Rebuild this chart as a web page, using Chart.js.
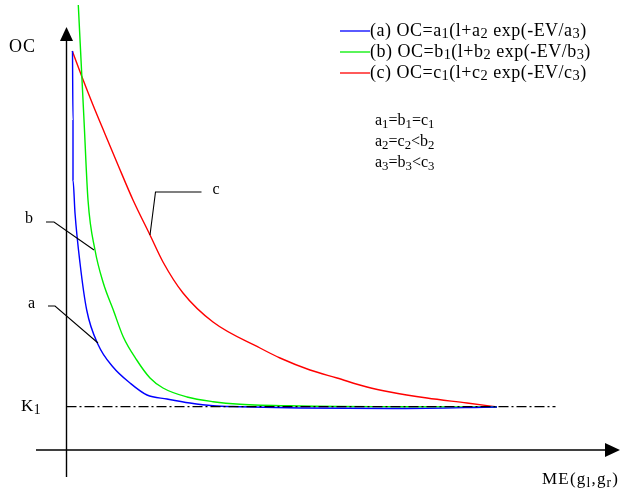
<!DOCTYPE html>
<html>
<head>
<meta charset="utf-8">
<script src="https://cdn.jsdelivr.net/npm/chart.js@4"></script>
<style>
  body { margin: 0; background: #fff; }
  #wrap { width: 621px; height: 494px; position: relative; }
</style>
</head>
<body>
<div id="wrap"><canvas id="mycanvas"></canvas></div>
<script>
// curves, x = ME, y = OC (arbitrary units)
let curveA = [[0.6,39.9],[0.65,33],[0.65,27],[0.85,23.7],[1.35,18.7],[2.02,14],[3.18,10.5],[4.65,8.3],[6.35,6.7],[8.05,5.5],[10.05,5.1],[12.35,4.7],[14.65,4.43],[17.35,4.33],[23.35,4.2],[33.35,4.15],[43.05,4.3]]
let curveB = [[1.18,44.5],[1.75,33],[2.15,25],[2.85,20],[3.68,16.7],[4.68,14],[5.68,11.3],[7.02,9],[8.35,7.2],[9.65,6.2],[12.05,5.3],[14.65,4.83],[17.35,4.57],[23.35,4.4],[33.35,4.33],[43.05,4.3]]
let curveC = [[0.58,39.9],[1.55,37.3],[2.65,34.5],[3.85,31.6],[5.15,28.5],[6.65,25],[8.35,21.5],[9.65,18.8],[11.65,15.7],[14.65,12.8],[19.35,10.2],[21.35,9.2],[24.35,8],[27.05,7.2],[30.05,6.3],[32.35,5.8],[36.05,5.2],[40.05,4.7],[43.05,4.3]]
let k1 = 4.33
let k1Range = [0, 48.9]

let legendText = ["(a) OC=a_1(l+a_2 exp(-EV/a_3)", "(b) OC=b_1(l+b_2 exp(-EV/b_3)", "(c) OC=c_1(l+c_2 exp(-EV/c_3)"]
let colors = ["#0000ff", "#00ee00", "#ff0000"]
let conditions = ["a_1=b_1=c_1", "a_2=c_2<b_2", "a_3=b_3<c_3"]

function pts(arr){ return arr.map(p => ({x: p[0], y: p[1]})) }

// text with "_x" subscripts, sp = extra space after each glyph
function richText(ctx, str, x, y, size, sp){
  sp = sp || 0
  let cx = x
  for (let i = 0; i < str.length; i++){
    let ch = str[i]
    if (ch == "_" && i + 1 < str.length){
      i++
      ctx.font = (size*0.8) + "px 'Liberation Serif'"
      ctx.fillText(str[i], cx, y + size*0.2)
      cx += ctx.measureText(str[i]).width + sp
    } else {
      ctx.font = size + "px 'Liberation Serif'"
      ctx.fillText(ch, cx, y)
      cx += ctx.measureText(ch).width + sp
    }
  }
  return cx
}

let extras = {
  id: "extras",
  afterDatasetsDraw(chart){
    let ctx = chart.ctx
    let xs = chart.scales.x, ys = chart.scales.y
    let X = v => xs.getPixelForValue(v), Y = v => ys.getPixelForValue(v)
    ctx.save()
    ctx.strokeStyle = "#000"
    ctx.fillStyle = "#000"
    ctx.lineWidth = 1.4
    // axes
    ctx.beginPath()
    ctx.moveTo(X(0), Y(-2.7)); ctx.lineTo(X(0), Y(41))
    ctx.moveTo(X(-3.05), Y(0)); ctx.lineTo(X(53.9), Y(0))
    ctx.stroke()
    ctx.beginPath()
    ctx.moveTo(X(0), Y(42.3)); ctx.lineTo(X(-0.65), Y(40.9)); ctx.lineTo(X(0.65), Y(40.9)); ctx.closePath()
    ctx.fill()
    ctx.beginPath()
    ctx.moveTo(X(55.35), Y(0)); ctx.lineTo(X(53.85), Y(0.7)); ctx.lineTo(X(53.85), Y(-0.7)); ctx.closePath()
    ctx.fill()

    // leader lines
    ctx.lineWidth = 1.1
    let leaders = [
      [[13.5,25.8],[8.9,25.8],[8.35,21.5]],
      [[-2.05,22.8],[-1.25,22.8],[2.75,20]],
      [[-1.85,14.4],[-1.15,14.4],[3.15,10.7]]
    ]
    leaders.forEach(l => {
      ctx.beginPath()
      ctx.moveTo(X(l[0][0]), Y(l[0][1]))
      for (let i = 1; i < l.length; i++) ctx.lineTo(X(l[i][0]), Y(l[i][1]))
      ctx.stroke()
    })

    ctx.textBaseline = "middle"
    richText(ctx, "c", X(14.6), Y(26), 16)
    richText(ctx, "b", X(-4.15), Y(23.1), 16)
    richText(ctx, "a", X(-3.85), Y(14.6), 16)
    richText(ctx, "OC", 9, Y(40.3), 18, 1)
    richText(ctx, "K_1", 21, Y(k1), 17, 0.5)
    richText(ctx, "ME(g_l,g_r)", 542, 480, 17, 1.2)

    // legend
    legendText.forEach((t, i) => {
      let y = 31 + i*21
      ctx.strokeStyle = colors[i]
      ctx.lineWidth = 1.3
      ctx.beginPath(); ctx.moveTo(340, y); ctx.lineTo(370, y); ctx.stroke()
      ctx.fillStyle = "#000"
      richText(ctx, t, 370, y, 18, 0.5)
    })
    conditions.forEach((t, i) => {
      richText(ctx, t, 375, 121 + i*21, 16, 0)
    })
    ctx.restore()
  }
}

let mychart = new Chart(document.getElementById("mycanvas"), {
  type: "line",
  data: {
    datasets: [
      { data: [{x: k1Range[0], y: k1}, {x: k1Range[1], y: k1}], borderColor: "#000", borderWidth: 1.3, borderDash: [10,3,2,3], pointRadius: 0 },
      { data: pts(curveA), borderColor: colors[0], borderWidth: 1.4, pointRadius: 0, cubicInterpolationMode: "monotone" },
      { data: pts(curveB), borderColor: colors[1], borderWidth: 1.4, pointRadius: 0, cubicInterpolationMode: "monotone" },
      { data: pts(curveC), borderColor: colors[2], borderWidth: 1.4, pointRadius: 0, cubicInterpolationMode: "monotone" }
    ]
  },
  options: {
    responsive: true,
    maintainAspectRatio: false,
    animation: false,
    layout: { padding: 0 },
    plugins: { legend: { display: false }, tooltip: { enabled: false } },
    scales: {
      x: { type: "linear", min: -6.65, max: 55.45, display: false },
      y: { type: "linear", min: -4.4, max: 45, display: false }
    }
  },
  plugins: [extras]
})
</script>
</body>
</html>
